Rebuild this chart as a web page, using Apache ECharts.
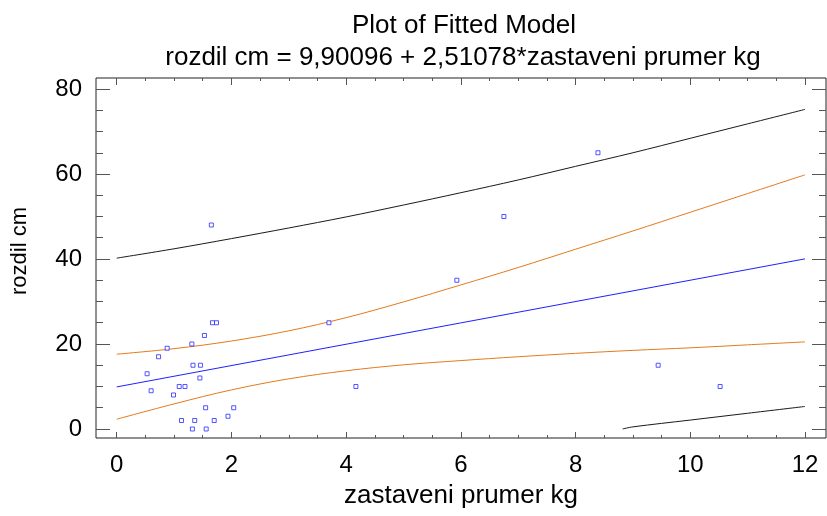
<!DOCTYPE html>
<html>
<head>
<meta charset="utf-8">
<script src="https://cdn.jsdelivr.net/npm/echarts@6/dist/echarts.min.js"></script>
<style>html,body{margin:0;padding:0;background:#fff}#c{width:827px;height:516px}</style>
</head>
<body>
<div id="c"></div>
<script>
// ---- data ----
var titleText = 'Plot of Fitted Model';
var subtitleText = 'rozdil cm = 9,90096 + 2,51078*zastaveni prumer kg';
var xName = 'zastaveni prumer kg';
var yName = 'rozdil cm';

var xTicks = [0, 2, 4, 6, 8, 10, 12];
var xMinorTicks = [0.5, 1, 1.5, 2.5, 3, 3.5, 4.5, 5, 5.5, 6.5, 7, 7.5, 8.5, 9, 9.5, 10.5, 11, 11.5, 12.5];
var yTicks = [0, 20, 40, 60, 80];
var yMinorTicks = [5, 10, 15, 25, 30, 35, 45, 50, 55, 65, 70, 75];

// observed points (x = zastaveni prumer kg, y = rozdil cm)
var pointsX = [1.65, 1.67, 1.74, 1.53, 0.88, 1.31, 0.73, 1.33, 1.46, 0.53, 1.45, 0.60, 1.09, 1.19, 0.99,
               1.55, 2.04, 1.94, 1.13, 1.36, 1.70, 1.32, 1.56,
               8.39, 6.75, 5.93, 3.70, 4.17, 9.44, 10.52];
var pointsY = [48, 25, 25, 22, 19, 20, 17, 15, 15, 13, 12, 9, 10, 10, 8,
               5, 5, 3, 2, 2, 2, 0, 0,
               65, 50, 35, 25, 10, 15, 10];

// fitted line
var fitX = [0, 12];
var fitY = [9.90, 40.03];

// confidence limits (orange) read at x = 0..12
var bandX = [0, 1, 2, 3, 4, 5, 6, 7, 8, 9, 10, 11, 12];
var confUpper = [17.6, 18.9, 20.7, 23.1, 26.2, 29.9, 33.9, 38.0, 42.3, 46.6, 51.0, 55.4, 59.8];
var confLower = [2.3, 5.9, 9.2, 11.8, 13.7, 15.1, 16.1, 17.0, 17.8, 18.5, 19.1, 19.8, 20.5];

// prediction limits (black)
var predUpper = [40.2, 42.4, 44.8, 47.3, 49.9, 52.7, 55.6, 58.6, 61.8, 65.0, 68.4, 71.8, 75.2];
var predLowerX = [8.82, 9, 10, 11, 12];
var predLowerY = [0, 0.5, 2.1, 3.7, 5.3];

// ---- build ----
function zip(a, b) { return a.map(function (v, i) { return [v, b[i]]; }); }

var XMIN = -0.361, XMAX = 12.366, YMIN = -2.12, YMAX = 82.59;
var FONT = '"Liberation Sans", Arial, Helvetica, sans-serif';
var tickColor = '#555';

function xAx(pos, values, len, labels) {
  return {
    type: 'value', position: pos, min: XMIN, max: XMAX, gridIndex: 0,
    axisLine: { show: false, onZero: false },
    splitLine: { show: false },
    axisTick: { show: true, inside: true, length: len, customValues: values, lineStyle: { color: tickColor, width: 1 } },
    axisLabel: labels ? { show: true, customValues: xTicks, fontSize: 24, fontFamily: FONT, color: '#000', margin: 15 } : { show: false },
    name: labels ? xName : '', nameLocation: 'middle', nameGap: 45,
    nameTextStyle: { fontSize: 26, fontFamily: FONT, color: '#000' }
  };
}
function yAx(pos, values, len, labels) {
  return {
    type: 'value', position: pos, min: YMIN, max: YMAX, gridIndex: 0,
    axisLine: { show: false, onZero: false },
    splitLine: { show: false },
    axisTick: { show: true, inside: true, length: len, customValues: values, lineStyle: { color: tickColor, width: 1 } },
    axisLabel: labels ? { show: true, customValues: yTicks, fontSize: 24, fontFamily: FONT, color: '#000', margin: 14 } : { show: false }
  };
}

var lineBase = { type: 'line', showSymbol: false, symbol: 'none', smooth: 0.35, xAxisIndex: 0, yAxisIndex: 0, clip: true, z: 2, silent: true };

var option = {
  animation: false,
  backgroundColor: '#fff',
  title: [
    { text: titleText, left: 459, top: 8, textAlign: 'center', textStyle: { fontSize: 26, fontWeight: 'normal', fontFamily: FONT, color: '#000' } },
    { text: subtitleText, left: 458, top: 40, textAlign: 'center', textStyle: { fontSize: 26, fontWeight: 'normal', fontFamily: FONT, color: '#000' } }
  ],
  grid: { left: 96, right: 1, top: 78, bottom: 78, show: true, borderColor: '#222', borderWidth: 1, backgroundColor: '#fff', containLabel: false },
  xAxis: [
    xAx('bottom', xTicks, 6, true),
    xAx('bottom', xMinorTicks, 3, false),
    xAx('top', xTicks, 7, false),
    xAx('top', xMinorTicks, 3, false)
  ],
  yAxis: [
    yAx('left', yTicks, 14, true),
    yAx('left', yMinorTicks, 7, false),
    yAx('right', yTicks, 14, false),
    yAx('right', yMinorTicks, 7, false)
  ],
  graphic: [
    { type: 'text', x: 20, y: 251, rotation: Math.PI / 2,
      style: { text: yName, font: '22px ' + FONT, fill: '#000', align: 'center', verticalAlign: 'middle' } }
  ],
  series: [
    Object.assign({}, lineBase, { name: 'pred upper', data: zip(bandX, predUpper), lineStyle: { color: '#1a1a1a', width: 1 } }),
    Object.assign({}, lineBase, { name: 'pred lower', data: zip(predLowerX, predLowerY), lineStyle: { color: '#1a1a1a', width: 1 } }),
    Object.assign({}, lineBase, { name: 'conf upper', data: zip(bandX, confUpper), lineStyle: { color: '#e57a1a', width: 1 } }),
    Object.assign({}, lineBase, { name: 'conf lower', data: zip(bandX, confLower), lineStyle: { color: '#e57a1a', width: 1 } }),
    Object.assign({}, lineBase, { name: 'fit', smooth: false, data: zip(fitX, fitY), lineStyle: { color: '#2020ff', width: 1 } }),
    { type: 'scatter', name: 'data', xAxisIndex: 0, yAxisIndex: 0, symbol: 'rect', symbolSize: 4, z: 3, silent: true,
      itemStyle: { color: '#fff', borderColor: '#2a2aff', borderWidth: 1 },
      data: zip(pointsX, pointsY) }
  ]
};

var chart = echarts.init(document.getElementById('c'), null, { renderer: 'canvas' });
chart.setOption(option);
</script>
</body>
</html>
